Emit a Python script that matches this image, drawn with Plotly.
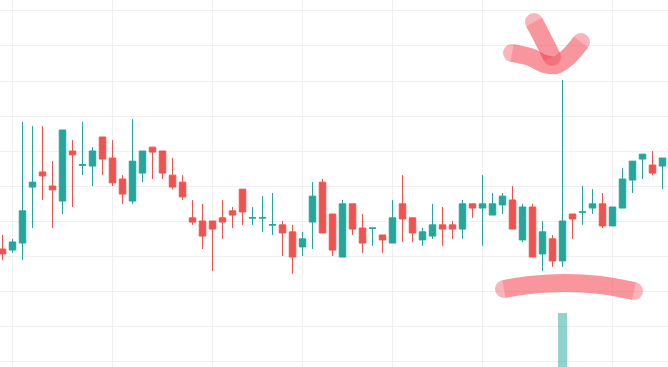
import plotly.graph_objects as go

# Candle index (time) and OHLC values
idx = list(range(67))
opens = [102.0, 101.7, 103.7, 119.7, 124.0, 120.0, 115.7, 130.0, 125.9, 125.7,
         134.0, 128.0, 122.0, 115.7, 123.7, 131.1, 130.0, 123.1, 121.1, 110.9,
         110.0, 110.0, 110.9, 112.9, 119.1, 110.8, 110.8, 108.8, 108.9, 106.9,
         102.6, 109.7, 121.1, 112.0, 99.7, 114.9, 108.0, 107.9, 106.0, 103.7,
         114.9, 110.9, 104.6, 105.7, 108.9, 108.9, 107.7, 114.9, 113.7, 111.7,
         114.6, 116.0, 104.6, 114.0, 100.6, 104.9, 98.6, 112.0, 112.5, 113.7,
         114.9, 108.6, 113.7, 121.7, 127.7, 126.0, 125.7]
highs = [106.0, 104.9, 138.3, 137.1, 137.1, 127.1, 136.0, 133.1, 138.3, 131.1,
         134.0, 133.1, 123.1, 139.1, 130.0, 131.1, 130.0, 128.0, 123.1, 116.0,
         114.9, 110.0, 116.0, 114.0, 119.1, 114.0, 117.1, 118.0, 110.0, 108.9,
         106.9, 121.1, 122.0, 112.0, 116.0, 114.9, 112.0, 108.0, 106.0, 116.0,
         123.1, 110.9, 108.0, 114.9, 114.0, 110.0, 116.0, 114.9, 123.1, 118.0,
         118.0, 120.0, 114.9, 114.9, 110.0, 106.0, 150.3, 112.0, 120.0, 119.1,
         118.0, 114.0, 125.1, 127.1, 129.1, 130.0, 128.0]
lows = [98.9, 100.9, 98.9, 108.0, 116.0, 108.0, 112.0, 114.0, 123.1, 120.0,
        123.1, 120.0, 114.9, 114.9, 121.1, 122.0, 122.0, 119.1, 116.0, 108.9,
        102.0, 95.7, 104.9, 108.0, 108.9, 108.9, 106.9, 106.0, 100.0, 94.9,
        100.0, 102.0, 106.6, 100.0, 99.7, 106.0, 100.9, 102.9, 100.9, 103.7,
        104.0, 104.0, 102.9, 104.9, 102.9, 104.9, 104.9, 110.9, 102.9, 111.7,
        112.0, 107.7, 104.0, 99.7, 95.7, 96.9, 96.9, 104.9, 108.9, 112.0,
        108.0, 108.6, 113.7, 118.0, 122.0, 123.1, 119.1]
closes = [100.6, 104.0, 112.9, 121.1, 122.9, 118.9, 136.0, 128.9, 126.1, 130.0,
          127.7, 120.9, 117.7, 127.1, 130.0, 129.7, 123.7, 119.7, 116.9, 109.7,
          105.7, 107.7, 109.7, 111.7, 112.6, 111.0, 111.0, 109.0, 106.6, 99.7,
          104.9, 117.1, 106.6, 101.7, 114.9, 107.7, 103.7, 108.0, 104.6, 110.9,
          110.6, 106.6, 106.9, 108.9, 107.7, 107.7, 114.9, 113.7, 114.9, 114.9,
          117.1, 107.7, 114.0, 99.7, 106.9, 98.6, 110.0, 110.6, 112.6, 114.9,
          108.6, 114.0, 122.0, 127.1, 129.1, 123.7, 128.0]

# Volume (only the spike bar is visible)
vol_idx = [56]
vol_values = [50]

# Time-scale grid positions
grid_idx = [1, 11, 21, 30, 39, 48, 61]

# Hand-drawn annotation strokes (in screen pixels of the 668x367 canvas)
stroke_stem_x = [534, 540, 546, 552]
stroke_stem_y = [22, 33, 45, 57]
stroke_v_x = [512, 530, 545, 556, 568, 581]
stroke_v_y = [53, 57, 64, 65, 57, 42]
stroke_base_x = [504, 530, 565, 600, 634]
stroke_base_y = [289, 285, 283, 285, 291]

UP = "#26a69a"
DOWN = "#ef5350"
PINK = "#f23645"
GRID = "#f0f0f0"

fig = go.Figure()

fig.add_trace(go.Candlestick(
    x=idx, open=opens, high=highs, low=lows, close=closes,
    increasing=dict(line=dict(color=UP, width=1), fillcolor=UP),
    decreasing=dict(line=dict(color=DOWN, width=1), fillcolor=DOWN),
    whiskerwidth=0, showlegend=False,
))

fig.add_trace(go.Bar(
    x=vol_idx, y=vol_values, width=0.9, yaxis="y2",
    marker=dict(color="rgba(38,166,154,0.5)", line=dict(width=0)),
    showlegend=False,
))

for sx, sy in [(stroke_stem_x, stroke_stem_y), (stroke_v_x, stroke_v_y),
               (stroke_base_x, stroke_base_y)]:
    fig.add_trace(go.Scatter(
        x=sx, y=sy, xaxis="x3", yaxis="y3", mode="lines+markers",
        line=dict(color=PINK, width=18, shape="spline"),
        marker=dict(color=PINK, size=[18] + [0] * (len(sx) - 2) + [18], line=dict(width=0)),
        opacity=0.52, showlegend=False, hoverinfo="skip",
    ))

fig.update_layout(
    width=668, height=367,
    margin=dict(l=0, r=0, t=0, b=0),
    paper_bgcolor="white", plot_bgcolor="white",
    boxgap=0.35, boxgroupgap=0,
    xaxis=dict(range=[-0.25, 66.55], tickvals=grid_idx, showticklabels=False,
               showgrid=True, gridcolor=GRID, gridwidth=1, zeroline=False,
               rangeslider=dict(visible=False), showline=False, ticks=""),
    yaxis=dict(range=[68.29, 173.14], dtick=10, tick0=0, showticklabels=False,
               showgrid=True, gridcolor=GRID, gridwidth=1, zeroline=False,
               showline=False, ticks=""),
    yaxis2=dict(overlaying="y", range=[0, 340], visible=False, showgrid=False),
    xaxis3=dict(overlaying="x", anchor="y3", range=[0, 668], visible=False,
                showgrid=False, zeroline=False),
    yaxis3=dict(overlaying="y", anchor="x3", range=[367, 0], visible=False,
                showgrid=False, zeroline=False),
)

fig.write_html(
    "out.html",
    config={"displayModeBar": False},
    post_script="document.body.style.margin='0';document.body.style.overflow='hidden';",
)
